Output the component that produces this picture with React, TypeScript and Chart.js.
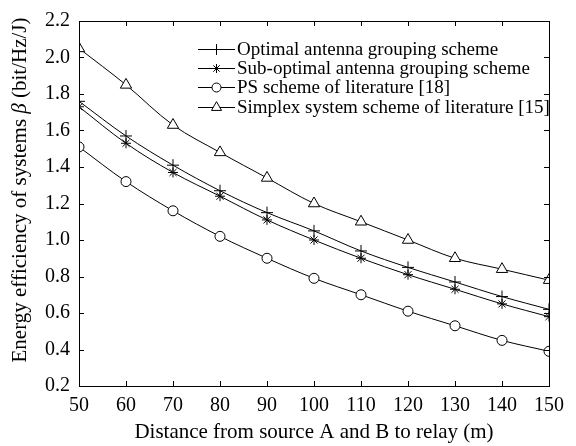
import React, { useEffect, useRef } from 'react';
import { Chart, registerables } from 'chart.js';

Chart.register(...registerables);

const distances = [50, 60, 70, 80, 90, 100, 110, 120, 130, 140, 150];
const optimal = [1.76, 1.57, 1.41, 1.27, 1.15, 1.05, 0.94, 0.85, 0.77, 0.69, 0.62];
const subOptimal = [1.73, 1.53, 1.37, 1.24, 1.11, 1.0, 0.9, 0.81, 0.73, 0.65, 0.58];
const psScheme = [1.51, 1.32, 1.16, 1.02, 0.9, 0.79, 0.7, 0.61, 0.53, 0.45, 0.39];
const simplex = [2.05, 1.85, 1.63, 1.48, 1.34, 1.2, 1.1, 1.0, 0.9, 0.84, 0.78];

const seriesNames = [
  'Optimal antenna grouping scheme',
  'Sub-optimal antenna grouping scheme',
  'PS scheme of literature [18]',
  'Simplex system scheme of literature [15]',
];
const seriesValues = [optimal, subOptimal, psScheme, simplex];
const pointStyles = ['cross', 'star', 'circle', 'triangle'];
const pointRadii = [6, 5, 5, 6.5];

const xTitle = 'Distance from source A and B to relay (m)';
const yTitleParts = [
  { text: 'Energy efficiency of systems ', italic: false },
  { text: 'β', italic: true },
  { text: ' (bit/Hz/J)', italic: false },
];

const FONT = '"Liberation Serif", "Times New Roman", serif';

function drawMarker(ctx: CanvasRenderingContext2D, style: string, x: number, y: number, r: number) {
  ctx.save();
  ctx.strokeStyle = '#000';
  ctx.fillStyle = '#fff';
  ctx.lineWidth = 1;
  ctx.beginPath();
  if (style === 'circle') {
    ctx.arc(x, y, r, 0, Math.PI * 2);
    ctx.fill();
    ctx.stroke();
  } else if (style === 'triangle') {
    for (let k = 0; k < 3; k++) {
      const a = (k * 2 * Math.PI) / 3;
      const px = x + Math.sin(a) * r;
      const py = y - Math.cos(a) * r;
      if (k === 0) ctx.moveTo(px, py);
      else ctx.lineTo(px, py);
    }
    ctx.closePath();
    ctx.fill();
    ctx.stroke();
  } else if (style === 'cross') {
    ctx.moveTo(x - r, y);
    ctx.lineTo(x + r, y);
    ctx.moveTo(x, y - r);
    ctx.lineTo(x, y + r);
    ctx.stroke();
  } else if (style === 'star') {
    ctx.moveTo(x - r, y);
    ctx.lineTo(x + r, y);
    ctx.moveTo(x, y - r);
    ctx.lineTo(x, y + r);
    const d = r * Math.cos(Math.PI / 4);
    ctx.moveTo(x - d, y - d);
    ctx.lineTo(x + d, y + d);
    ctx.moveTo(x - d, y + d);
    ctx.lineTo(x + d, y - d);
    ctx.stroke();
  }
  ctx.restore();
}

const framePlugin = {
  id: 'frameAndLegend',
  afterDraw(chart: any) {
    const ctx: CanvasRenderingContext2D = chart.ctx;
    const { left, right, top, bottom } = chart.chartArea;
    const xs = chart.scales.x;
    const ys = chart.scales.y;
    ctx.save();
    ctx.strokeStyle = '#000';
    ctx.lineWidth = 1;
    ctx.strokeRect(Math.round(left) + 0.5, Math.round(top) + 0.5, Math.round(right - left), Math.round(bottom - top));
    const tl = 5;
    ctx.beginPath();
    xs.ticks.forEach((t: any) => {
      const px = Math.round(xs.getPixelForValue(t.value)) + 0.5;
      ctx.moveTo(px, bottom);
      ctx.lineTo(px, bottom - tl);
      ctx.moveTo(px, top);
      ctx.lineTo(px, top + tl);
    });
    ys.ticks.forEach((t: any) => {
      const py = Math.round(ys.getPixelForValue(t.value)) + 0.5;
      ctx.moveTo(left, py);
      ctx.lineTo(left + tl, py);
      ctx.moveTo(right, py);
      ctx.lineTo(right - tl, py);
    });
    ctx.stroke();

    // legend
    const lx0 = 198;
    const lx1 = 235;
    const ly0 = 49;
    const lstep = 19.2;
    ctx.font = `19px ${FONT}`;
    ctx.fillStyle = '#000';
    ctx.textBaseline = 'middle';
    ctx.textAlign = 'left';
    seriesNames.forEach((name, i) => {
      const y = Math.round(ly0 + i * lstep) + 0.5;
      ctx.beginPath();
      ctx.moveTo(lx0, y);
      ctx.lineTo(lx1, y);
      ctx.stroke();
      drawMarker(ctx, pointStyles[i], (lx0 + lx1) / 2, y, pointRadii[i] * 0.9);
      ctx.fillText(name, lx1 + 2, y + 1);
    });

    // x title
    ctx.font = `21px ${FONT}`;
    ctx.textAlign = 'center';
    ctx.textBaseline = 'alphabetic';
    ctx.fillText(xTitle, (left + right) / 2, 438);

    // y title (rotated, with italic beta)
    ctx.save();
    ctx.translate(26, 190);
    ctx.rotate(-Math.PI / 2);
    ctx.textAlign = 'left';
    ctx.textBaseline = 'alphabetic';
    const fonts = yTitleParts.map((p) => `${p.italic ? 'italic ' : ''}21px ${FONT}`);
    let total = 0;
    const widths = yTitleParts.map((p, i) => {
      ctx.font = fonts[i];
      const w = ctx.measureText(p.text).width;
      total += w;
      return w;
    });
    let cx = -total / 2;
    yTitleParts.forEach((p, i) => {
      ctx.font = fonts[i];
      ctx.fillText(p.text, cx, 0);
      cx += widths[i];
    });
    ctx.restore();
    ctx.restore();
  },
};

export default function App() {
  const ref = useRef<HTMLCanvasElement | null>(null);
  useEffect(() => {
    if (!ref.current) return;
    const chart = new Chart(ref.current, {
      type: 'line',
      data: {
        datasets: seriesValues.map((vals, i) => ({
          label: seriesNames[i],
          data: distances.map((x, j) => ({ x, y: vals[j] })),
          borderColor: '#000',
          borderWidth: 1,
          backgroundColor: '#fff',
          pointStyle: pointStyles[i] as any,
          pointRadius: pointRadii[i],
          pointBorderColor: '#000',
          pointBackgroundColor: '#fff',
          pointBorderWidth: 1,
          tension: 0.35,
          fill: false,
        })),
      },
      options: {
        animation: false,
        responsive: false,
        maintainAspectRatio: false,
        devicePixelRatio: 1,
        layout: { padding: { left: 0, right: 27, top: 17, bottom: 0 } },
        plugins: {
          legend: { display: false },
          tooltip: { enabled: false },
        },
        scales: {
          x: {
            type: 'linear',
            min: 50,
            max: 150,
            ticks: {
              stepSize: 10,
              padding: 8,
              color: '#000',
              font: { family: FONT, size: 20 },
              maxRotation: 0,
            },
            grid: { display: false, drawTicks: false },
            border: { display: false },
            afterFit(scale: any) {
              scale.height = 60;
            },
          },
          y: {
            type: 'linear',
            min: 0.2,
            max: 2.2,
            ticks: {
              stepSize: 0.2,
              padding: 9,
              color: '#000',
              font: { family: FONT, size: 20 },
              callback: (v: any) => Number(v).toFixed(1),
            },
            grid: { display: false, drawTicks: false },
            border: { display: false },
            afterFit(scale: any) {
              scale.width = 79;
            },
          },
        },
      },
      plugins: [framePlugin],
    });
    return () => chart.destroy();
  }, []);
  return (
    <div style={{ position: 'fixed', left: 0, top: 0, width: 576, height: 446, background: '#fff' }}>
      <canvas ref={ref} width={576} height={446} style={{ width: 576, height: 446 }} />
    </div>
  );
}
